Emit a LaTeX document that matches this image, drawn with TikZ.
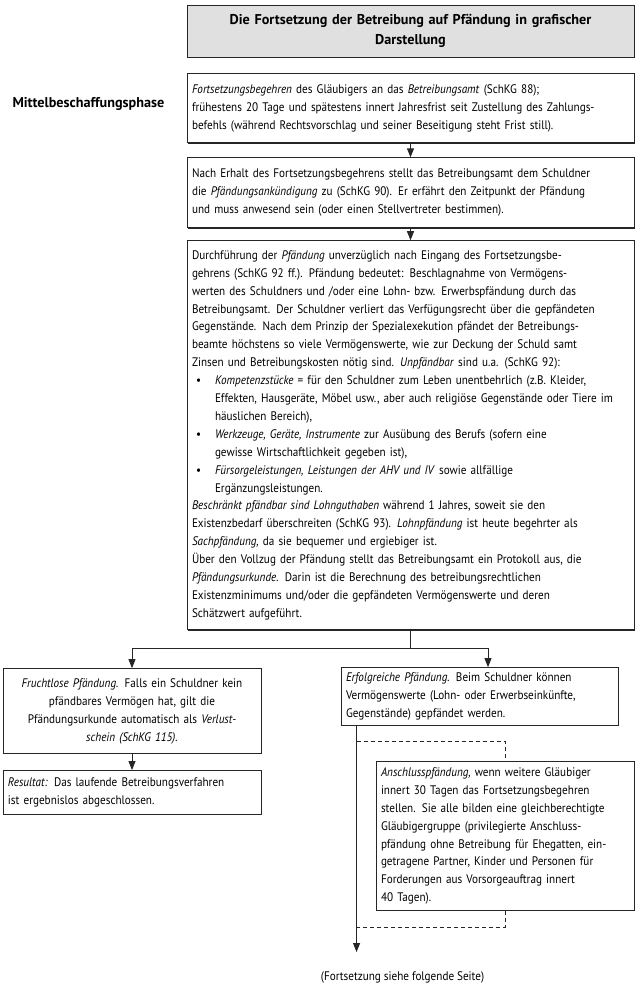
\documentclass[tikz,border=0pt]{standalone}
\usepackage{fontspec}
\setmainfont{PT Sans}[FakeStretch=0.9]
\newfontfamily\headfont{PT Sans}
\usepackage{tikz}
\usetikzlibrary{arrows.meta,positioning,shadows}
\definecolor{ink}{HTML}{262626}
\definecolor{titlebg}{HTML}{E0E0E0}
\newcommand{\pitem}{\makebox[23pt][l]{\hspace{4pt}\textbullet}}
\newcommand{\pcont}{\hspace*{23pt}}

\begin{document}
\begin{tikzpicture}[
  x=1pt,y=1pt,
  node distance=14pt,
  font=\fontsize{12.4}{17.9}\selectfont,
  plain/.style={draw=ink,line width=0.9pt,fill=white,align=left,
                text width=437pt,inner xsep=5pt,inner ysep=4pt},
  box/.style={plain,drop shadow={shadow xshift=0.8pt,shadow yshift=-0.8pt,opacity=1,fill=ink}},
  sbox/.style={box,text width=248pt},
  titlebox/.style={plain,fill=titlebg,align=center,minimum height=52pt,
                   font=\headfont\bfseries\fontsize{14.2}{20.5}\selectfont,
                   drop shadow={shadow xshift=1.4pt,shadow yshift=-1.4pt,opacity=1,fill=ink}},
  phase/.style={font=\headfont\bfseries\fontsize{14.2}{16}\selectfont,inner sep=0pt},
  arr/.style={-{Triangle[length=9pt,width=7pt]},line width=0.9pt,ink},
  dashline/.style={dash pattern=on 4pt off 3pt,line width=0.9pt,ink}
]
\useasboundingbox (0,0) rectangle (641,-984);
\node[titlebox] (title) at (410.5,-31) {Die Fortsetzung der Betreibung auf Pfändung in grafischer\\Darstellung};
\node[box,below=16pt of title,minimum height=69pt] (begehren) {\textit{Fortsetzungsbegehren} des Gläubigers an das \textit{Betreibungsamt} (SchKG 88);\\
frühestens 20 Tage und spätestens innert Jahresfrist seit Zustellung des Zahlungs-\\
befehls (während Rechtsvorschlag und seiner Beseitigung steht Frist still).};
\node[phase,left=22pt of begehren,yshift=4.5pt] (phase) {Mittelbeschaffungsphase};
\node[box,below=of begehren,minimum height=70pt] (ankuendigung) {Nach Erhalt des Fortsetzungsbegehrens stellt das Betreibungsamt dem Schuldner\\
die \textit{Pfändungsankündigung} zu (SchKG 90). Er erfährt den Zeitpunkt der Pfändung\\
und muss anwesend sein (oder einen Stellvertreter bestimmen).};
\node[box,below=12pt of ankuendigung,minimum height=389pt] (pfaendung) {Durchführung der \textit{Pfändung} unverzüglich nach Eingang des Fortsetzungsbe-\\
gehrens (SchKG 92 ff.). Pfändung bedeutet: Beschlagnahme von Vermögens-\\
werten des Schuldners und /oder eine Lohn- bzw. Erwerbspfändung durch das\\
Betreibungsamt. Der Schuldner verliert das Verfügungsrecht über die gepfändeten\\
Gegenstände. Nach dem Prinzip der Spezialexekution pfändet der Betreibungs-\\
beamte höchstens so viele Vermögenswerte, wie zur Deckung der Schuld samt\\
Zinsen und Betreibungskosten nötig sind. \textit{Unpfändbar} sind u.a. (SchKG 92):\\
\pitem\textit{Kompetenzstücke} = für den Schuldner zum Leben unentbehrlich (z.B. Kleider,\\
\pcont Effekten, Hausgeräte, Möbel usw., aber auch religiöse Gegenstände oder Tiere im\\
\pcont häuslichen Bereich),\\
\pitem\textit{Werkzeuge, Geräte, Instrumente} zur Ausübung des Berufs (sofern eine\\
\pcont gewisse Wirtschaftlichkeit gegeben ist),\\
\pitem\textit{Fürsorgeleistungen, Leistungen der AHV und IV} sowie allfällige\\
\pcont Ergänzungsleistungen.\\
\textit{Beschränkt pfändbar sind Lohnguthaben} während 1 Jahres, soweit sie den\\
Existenzbedarf überschreiten (SchKG 93). \textit{Lohnpfändung} ist heute begehrter als\\
\textit{Sachpfändung,} da sie bequemer und ergiebiger ist.\\
Über den Vollzug der Pfändung stellt das Betreibungsamt ein Protokoll aus, die\\
\textit{Pfändungsurkunde.} Darin ist die Berechnung des betreibungsrechtlichen\\
Existenzminimums und/oder die gepfändeten Vermögenswerte und deren\\
Schätzwert aufgeführt.};
% split below the main box
\coordinate[below=18pt of pfaendung] (split);
\coordinate[left=278.5pt of split] (sl);
\coordinate[right=77.5pt of split] (sr);
\node[sbox,align=center,below=20pt of sl,minimum height=85pt] (fruchtlos) {\textit{Fruchtlose Pfändung.} Falls ein Schuldner kein\\
pfändbares Vermögen hat, gilt die\\
Pfändungsurkunde automatisch als \textit{Verlust-}\\
\textit{schein (SchKG 115).}};
\node[sbox,below=16pt of fruchtlos,minimum height=44pt] (resultat) {\textit{Resultat:} Das laufende Betreibungsverfahren\\
ist ergebnislos abgeschlossen.};
\node[box,text width=267pt,below=19pt of sr,xshift=-8.5pt,minimum height=58pt] (erfolg) {\textit{Erfolgreiche Pfändung.} Beim Schuldner können\\
Vermögenswerte (Lohn- oder Erwerbseinkünfte,\\
Gegenstände) gepfändet werden.};
\node[sbox,below=35pt of erfolg,xshift=25.5pt,minimum height=149pt] (anschluss) {\textit{Anschlusspfändung,} wenn weitere Gläubiger\\
innert 30 Tagen das Fortsetzungsbegehren\\
stellen. Sie alle bilden eine gleichberechtigte\\
Gläubigergruppe (privilegierte Anschluss-\\
pfändung ohne Betreibung für Ehegatten, ein-\\
getragene Partner, Kinder und Personen für\\
Forderungen aus Vorsorgeauftrag innert\\
40 Tagen).};
\coordinate[right=16pt of erfolg.south west] (stem);
\coordinate[below=15pt of stem] (dtop);
\coordinate[below=201pt of stem] (dbot);
\coordinate[below=226pt of stem] (ende);
\node (weiter) at ([shift={(46pt,-25pt)}]ende) {(Fortsetzung siehe folgende Seite)};
% connectors
\draw[arr] (begehren) -- (ankuendigung);
\draw[arr] (ankuendigung) -- (pfaendung);
\draw[arr] (pfaendung) -- (split) -| (fruchtlos);
\draw[arr] (split) -| (sr |- erfolg.north);
\draw[arr] (fruchtlos) -- (resultat);
\draw[arr] (stem) -- (ende);
\draw[dashline] (dtop) -| (anschluss.north);
\draw[dashline] (anschluss.south) |- (dbot);
\end{tikzpicture}
\end{document}
